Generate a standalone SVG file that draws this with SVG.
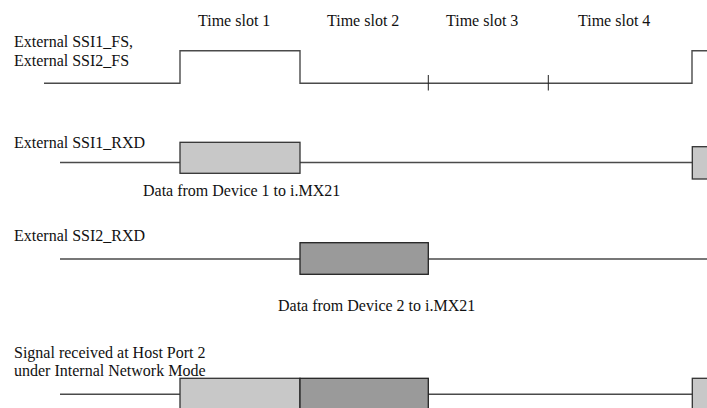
<svg xmlns="http://www.w3.org/2000/svg" width="707" height="408" viewBox="0 0 707 408">
  <rect width="707" height="408" fill="#fff"/>

  <g id="slots" font-family="Liberation Serif" font-size="16" fill="#111">
    <text x="198" y="26">Time slot 1</text>
    <text x="327" y="26">Time slot 2</text>
    <text x="446" y="26">Time slot 3</text>
    <text x="578" y="26">Time slot 4</text>
  </g>

  <g id="labels" font-family="Liberation Serif" font-size="16" fill="#111">
    <text x="14" y="47">External SSI1_FS,</text>
    <text x="14" y="66">External SSI2_FS</text>
    <text x="14" y="148">External SSI1_RXD</text>
    <text x="143" y="196">Data from Device 1 to i.MX21</text>
    <text x="14" y="241">External SSI2_RXD</text>
    <text x="278" y="311">Data from Device 2 to i.MX21</text>
    <text x="14" y="358">Signal received at Host Port 2</text>
    <text x="14" y="376">under Internal Network Mode</text>
  </g>

  <g id="connectors" fill="none" stroke="#4a4a4a" stroke-width="1.4">
    <path d="M44,83.3 H180 V50.7 H300 V83.3 H692 V50.7 H708"/>
    <line x1="428.3" y1="75" x2="428.3" y2="90.5" stroke="#222" stroke-width="1"/>
    <line x1="548.3" y1="75" x2="548.3" y2="90.5" stroke="#222" stroke-width="1"/>
    <line x1="60" y1="162.5" x2="708" y2="162.5"/>
    <line x1="60" y1="259" x2="708" y2="259"/>
    <line x1="60" y1="394.3" x2="708" y2="394.3"/>
  </g>

  <g id="rxd1" fill="#c8c8c8" stroke="#333" stroke-width="1.3">
    <rect x="180" y="142.3" width="120" height="31"/>
    <rect x="692.3" y="146.7" width="20" height="32.3"/>
  </g>

  <g id="rxd2" fill="#9a9a9a" stroke="#222" stroke-width="1.3">
    <rect x="300" y="242.7" width="128.3" height="31.6"/>
  </g>

  <g id="host" stroke-width="1.3">
    <rect x="180" y="378.3" width="120" height="40" fill="#c8c8c8" stroke="#333"/>
    <rect x="300" y="378.3" width="128.3" height="40" fill="#9a9a9a" stroke="#222"/>
    <rect x="692.3" y="378.3" width="20" height="40" fill="#c8c8c8" stroke="#333"/>
  </g>
</svg>
